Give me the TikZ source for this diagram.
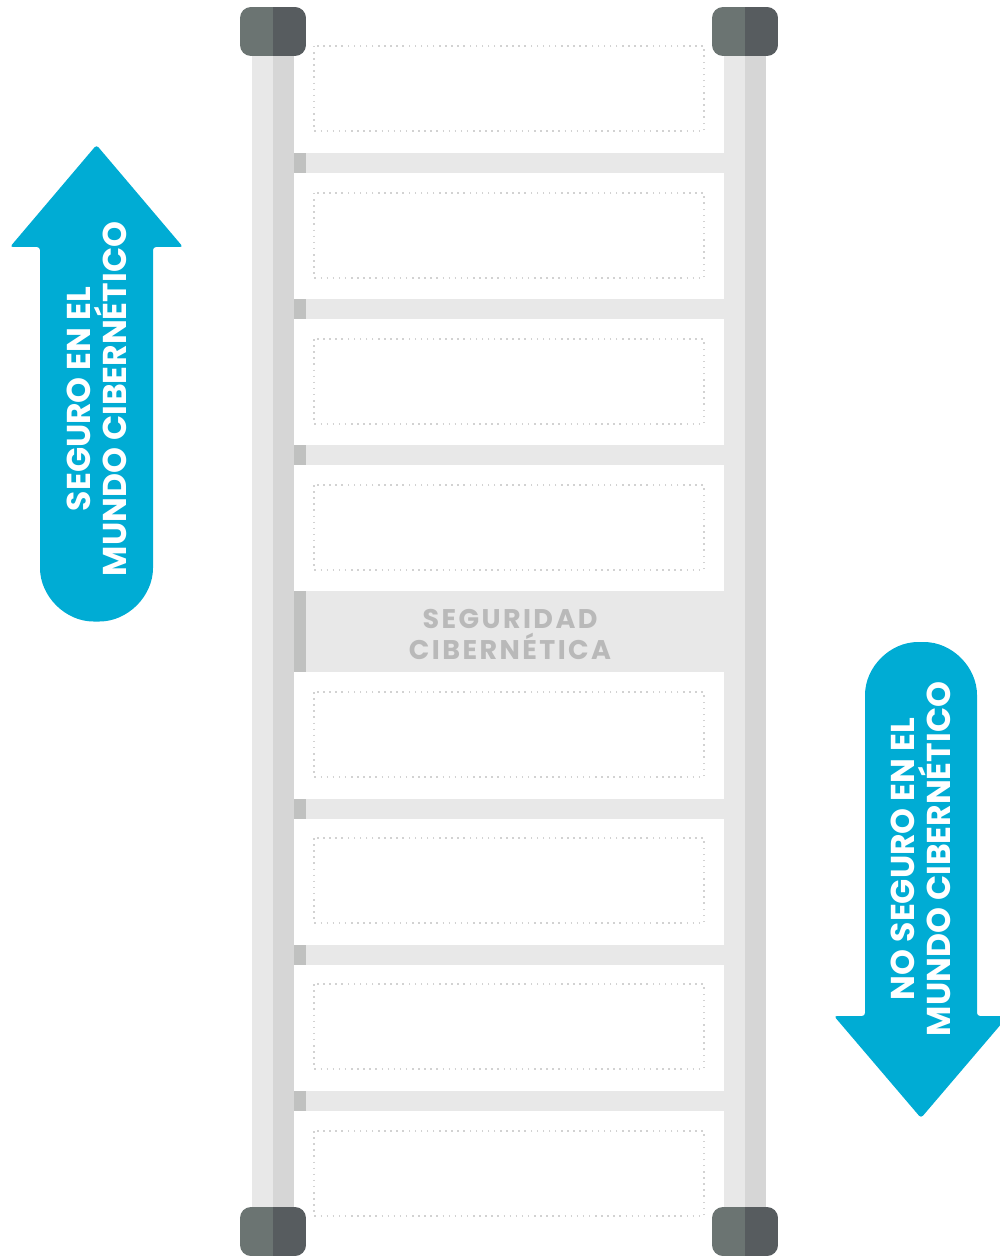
\documentclass[tikz,border=0pt]{standalone}
\usepackage{xcolor}
\usepackage{fontspec}
\usepackage{tikz}
\newfontfamily\ladderfont{Poppins}
\definecolor{railLight}{HTML}{E8E8E8}
\definecolor{railDark}{HTML}{D6D6D6}
\definecolor{capLight}{HTML}{6B7472}
\definecolor{capDark}{HTML}{575C5F}
\definecolor{rungEnd}{HTML}{C0C1C0}
\definecolor{dotGray}{HTML}{D2D2D2}
\definecolor{labelGray}{HTML}{B9B9B9}
\definecolor{arrowBlue}{HTML}{00ACD4}

\begin{document}
\begin{tikzpicture}[x=1pt,y=-1pt,
    arrow text/.style={font=\ladderfont\bfseries\fontsize{33}{36}\selectfont, text=white, align=center, rotate=90},
    band text/.style={font=\ladderfont\bfseries\fontsize{27}{31}\selectfont\addfontfeature{LetterSpace=9}, text=labelGray, align=center}]
    \useasboundingbox (0,0) rectangle (999,1257);
    \foreach \x in {252,724} {
        \fill [railLight] (\x,30) rectangle (\x+21,1230);
        \fill [railDark] (\x+21,30) rectangle (\x+42,1230);
    }
    \foreach \y in {153,299,445,799,945,1091} {
        \fill [rungEnd] (294,\y) rectangle (306,\y+20);
        \fill [railLight] (306,\y) rectangle (724,\y+20);
    }
    \fill [rungEnd] (294,591) rectangle (306,672);
    \fill [railLight] (306,591) rectangle (724,672);
    \foreach \y in {46,193,339,485,692,838,984,1131}
        \draw [dotGray, line width=1.5pt, dash pattern=on 1.5pt off 4.6pt] (314,\y) rectangle (704,\y+85);
    \foreach \x/\y in {240/7,712/7,240/1207,712/1207} {
        \begin{scope}
            \clip [rounded corners=11pt] (\x,\y) rectangle (\x+66,\y+49);
            \fill [capLight] (\x,\y) rectangle (\x+33,\y+49);
            \fill [capDark] (\x+33,\y) rectangle (\x+66,\y+49);
        \end{scope}
    }
    \fill [arrowBlue, rounded corners=3pt] (96.5,145) -- (183,247) -- (153,247) -- (153,565)
        .. controls (153,596.2) and (127.7,621.5) .. (96.5,621.5)
        .. controls (65.3,621.5) and (40,596.2) .. (40,565) -- (40,247) -- (10,247) -- cycle;
    \fill [arrowBlue, rounded corners=3pt] (921,1118) -- (834,1016) -- (865,1016) -- (865,698)
        .. controls (865,667.1) and (889.9,642) .. (921,642)
        .. controls (952.1,642) and (977,667.1) .. (977,698) -- (977,1016) -- (1008,1016) -- cycle;
    \node [arrow text] (safe) at (97,399) {SEGURO EN EL\\MUNDO CIBERNÉTICO};
    \node [arrow text] (unsafe) at (921,859) {NO SEGURO EN EL\\MUNDO CIBERNÉTICO};
    \node [band text] (security) at (510,634) {SEGURIDAD\\CIBERNÉTICA};
\end{tikzpicture}
\end{document}
